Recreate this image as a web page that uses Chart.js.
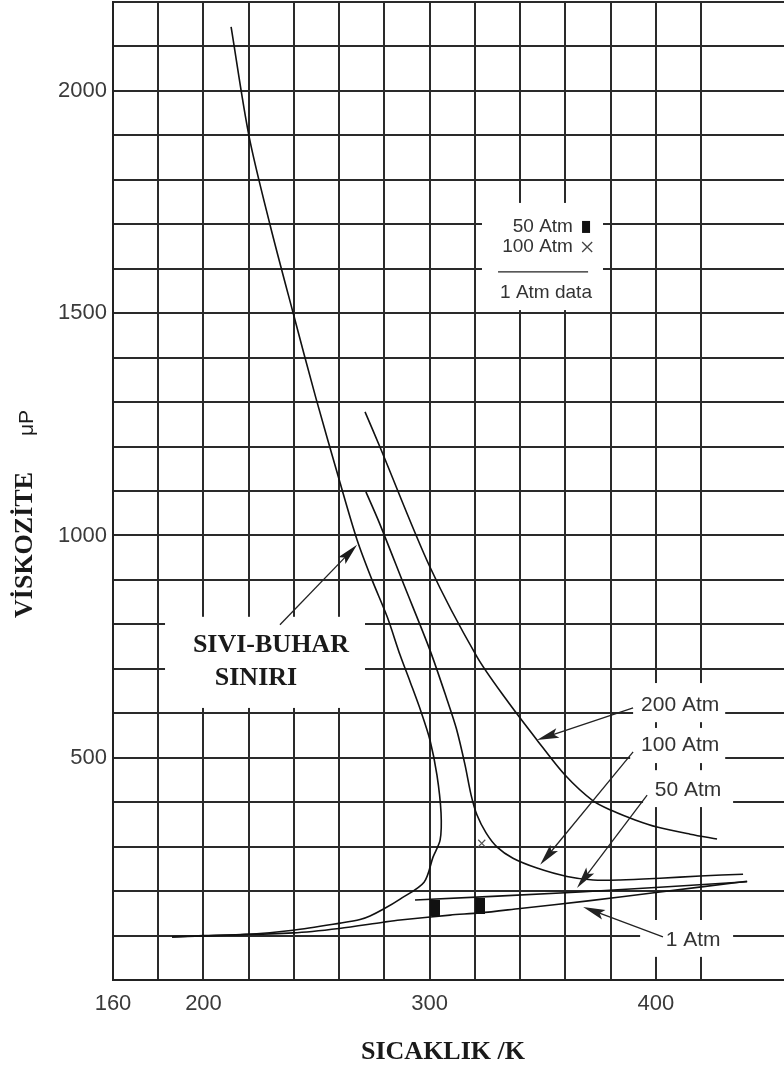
<!DOCTYPE html>
<html>
<head>
<meta charset="utf-8">
<script src="https://cdn.jsdelivr.net/npm/chart.js@4.4.0/dist/chart.umd.min.js"></script>
<style>
  html, body { margin: 0; padding: 0; background: #fff; }
  #wrap { width: 784px; height: 1072px; }
</style>
</head>
<body>
<div id="wrap"><canvas id="viscChart" width="784" height="1072"></canvas></div>
<script>
// values: temperature in K, viscosity in microPoise
var satT  = [212.2, 220.1, 229.4, 239.6, 249.7, 260.4, 267.9, 274.5, 281.2, 286.9, 291.4, 296.2, 300.1, 303.2, 305.0, 304.6, 301.5, 297.5, 286.9, 279.4, 273.6, 269.2, 260.4, 239.6, 220.6, 199.8, 186.1];
var satMu = [2144, 1899, 1699, 1501, 1309, 1118, 990, 900, 817, 731, 670, 603, 540, 461, 376, 315, 277, 220, 182, 159, 144, 136, 128, 112, 103, 99, 97];

var p200T  = [271.4, 278.0, 300.1, 320.9, 333.7, 347.4, 359.8, 372.2, 381.0, 390.8, 400.5, 415.1, 427.0];
var p200Mu = [1278, 1199, 929, 727, 632, 540, 461, 403, 380, 360, 344, 328, 317];

var p100T  = [271.8, 277.6, 288.6, 300.1, 307.7, 311.8, 315.6, 318.3, 320.9, 324.9, 329.8, 336.8, 347.4, 360.7, 372.2, 384.1, 401.8, 419.5, 438.5];
var p100Mu = [1098, 1030, 889, 742, 630, 565, 484, 416, 371, 331, 299, 274, 252, 233, 225, 225, 229, 234, 238];

var p50T  = [293.5, 366.5, 440.3];
var p50Mu = [180, 198, 221];

var p1T  = [186.1, 200, 239.6, 260, 279.4, 286.9, 309, 322.3, 340, 370, 400, 440.3];
var p1Mu = [97, 100, 106, 116, 130, 135, 146, 151, 161, 178, 197, 222];

// measured points
var d50T  = [302.3, 322.2];
var d50Mu = [162, 166];
var d100T  = [323.0];
var d100Mu = [307.5];

var xTickLabels = [160, 200, 300, 400];
var yTickLabels = [500, 1000, 1500, 2000];

function pts(xs, ys) {
  var out = [];
  for (var i = 0; i < xs.length; i++) out.push({ x: xs[i], y: ys[i] });
  return out;
}

// tall black block used for the 50 Atm data marks
var blockMark = document.createElement("canvas");
blockMark.width = 10;
blockMark.height = 16;
var bctx = blockMark.getContext("2d");
bctx.fillStyle = "#111";
bctx.fillRect(0, 0, 10, 16);

var SANS = "'Liberation Sans', Arial, sans-serif";
var SERIF = "'Liberation Serif', 'Times New Roman', serif";

// white boxes that cut the grid behind the labels [x1, y1, x2, y2] in data units
var masks = [
  [323.1, 1507, 376.6, 1748],
  [183.0, 612, 271.4, 817],
  [389.9, 580, 430.6, 668],
  [388.6, 488, 430.6, 567],
  [394.3, 389, 434.1, 472],
  [393.0, 52, 434.1, 135]
];

// curve labels and their arrows (tail -> head), data units
var curveLabels = [
  { text: "200 Atm", x: 410.7, y: 619, from: [389.9, 612], to: [347.4, 540] },
  { text: "100 Atm", x: 410.7, y: 529, from: [389.9, 513], to: [348.8, 259] },
  { text: "50 Atm", x: 414.2, y: 427, from: [396.1, 416], to: [365.1, 207] },
  { text: "1 Atm", x: 416.4, y: 90, from: [403.1, 97], to: [367.8, 164] }
];

function drawArrow(ctx, x1, y1, x2, y2) {
  var ang = Math.atan2(y2 - y1, x2 - x1);
  var len = 22, half = 5;
  var c = Math.cos(ang), s = Math.sin(ang);
  ctx.beginPath();
  ctx.moveTo(x1, y1);
  ctx.lineTo(x2 - c * len * 0.7, y2 - s * len * 0.7);
  ctx.stroke();
  ctx.beginPath();
  ctx.moveTo(x2, y2);
  ctx.lineTo(x2 - len * c + half * s, y2 - len * s - half * c);
  ctx.lineTo(x2 - len * c * 0.8, y2 - len * s * 0.8);
  ctx.lineTo(x2 - len * c - half * s, y2 - len * s + half * c);
  ctx.closePath();
  ctx.fill();
}

var decorPlugin = {
  id: "decor",
  beforeDatasetsDraw: function (chart) {
    var ctx = chart.ctx, xs = chart.scales.x, ys = chart.scales.y;
    ctx.save();
    ctx.fillStyle = "#fff";
    masks.forEach(function (m) {
      var l = xs.getPixelForValue(m[0]), r = xs.getPixelForValue(m[2]);
      var t = ys.getPixelForValue(m[3]), b = ys.getPixelForValue(m[1]);
      ctx.fillRect(l, t, r - l, b - t);
    });
    ctx.restore();
  },
  afterDatasetsDraw: function (chart) {
    var ctx = chart.ctx, xs = chart.scales.x, ys = chart.scales.y;
    var px = function (v) { return xs.getPixelForValue(v); };
    var py = function (v) { return ys.getPixelForValue(v); };
    ctx.save();
    ctx.fillStyle = "#222";
    ctx.strokeStyle = "#222";
    ctx.lineWidth = 1.3;

    // curve labels with arrows
    ctx.font = "21px " + SANS;
    ctx.textAlign = "center";
    ctx.textBaseline = "middle";
    curveLabels.forEach(function (c) {
      ctx.fillStyle = "#333";
      ctx.fillText(c.text, px(c.x), py(c.y));
      ctx.fillStyle = "#222";
      drawArrow(ctx, px(c.from[0]), py(c.from[1]), px(c.to[0]), py(c.to[1]));
    });

    // liquid-vapour boundary label
    ctx.font = "bold 26px " + SERIF;
    ctx.fillStyle = "#1a1a1a";
    ctx.fillText("SIVI-BUHAR", px(229.8), py(754));
    ctx.fillText("SINIRI", px(223.2), py(679));
    drawArrow(ctx, px(233.8), py(799), px(267.9), py(979));

    // key box
    ctx.font = "19px " + SANS;
    ctx.fillStyle = "#333";
    ctx.textAlign = "right";
    ctx.fillText("50 Atm", px(363.3), py(1694));
    ctx.fillText("100 Atm", px(363.3), py(1649));
    ctx.fillStyle = "#111";
    ctx.fillRect(px(369.1) - 4, py(1694) - 6, 8, 12);
    ctx.strokeStyle = "#444";
    ctx.lineWidth = 1.3;
    var cx = px(369.6), cy = py(1649);
    ctx.beginPath();
    ctx.moveTo(cx - 5, cy - 5); ctx.lineTo(cx + 5, cy + 5);
    ctx.moveTo(cx + 5, cy - 5); ctx.lineTo(cx - 5, cy + 5);
    ctx.stroke();
    ctx.strokeStyle = "#222";
    ctx.beginPath();
    ctx.moveTo(px(330.2), py(1593));
    ctx.lineTo(px(370), py(1593));
    ctx.stroke();
    ctx.fillStyle = "#333";
    ctx.textAlign = "center";
    ctx.fillText("1 Atm data", px(351.4), py(1546));
    ctx.restore();
  },
  afterDraw: function (chart) {
    var ctx = chart.ctx;
    ctx.save();
    ctx.fillStyle = "#1a1a1a";
    ctx.textAlign = "center";
    ctx.textBaseline = "middle";
    // axis titles
    ctx.font = "bold 26px " + SERIF;
    ctx.fillText("SICAKLIK /K", 443, 1052);
    ctx.translate(25, 545);
    ctx.rotate(-Math.PI / 2);
    ctx.fillText("VİSKOZİTE", 0, 0);
    ctx.font = "21px " + SANS;
    ctx.fillText("μP", 122, 2);
    ctx.restore();
  }
};

function lineSet(xs, ys) {
  return {
    data: pts(xs, ys),
    showLine: true,
    borderColor: "#111",
    borderWidth: 1.6,
    pointRadius: 0,
    tension: 0.3,
    fill: false
  };
}

function noPad(scale) {
  scale.paddingTop = 0;
  scale.paddingBottom = 0;
  scale.paddingLeft = 0;
  scale.paddingRight = 0;
}

var ctx = document.getElementById("viscChart").getContext("2d");
var myChart = new Chart(ctx, {
  type: "scatter",
  data: {
    datasets: [
      lineSet(satT, satMu),
      lineSet(p200T, p200Mu),
      lineSet(p100T, p100Mu),
      lineSet(p50T, p50Mu),
      lineSet(p1T, p1Mu),
      {
        data: pts(d50T, d50Mu),
        pointStyle: blockMark,
        pointRadius: 6,
        showLine: false
      },
      {
        data: pts(d100T, d100Mu),
        pointStyle: "crossRot",
        pointRadius: 5,
        borderColor: "#555",
        borderWidth: 1.2,
        showLine: false
      }
    ]
  },
  options: {
    responsive: false,
    animation: false,
    devicePixelRatio: 1,
    layout: { autoPadding: false, padding: { top: 2, right: 0, left: 0, bottom: 0 } },
    plugins: {
      legend: { display: false },
      tooltip: { enabled: false }
    },
    scales: {
      x: {
        type: "linear",
        min: 160,
        max: 456.6,
        afterBuildTicks: function (scale) {
          scale.ticks = scale.ticks.filter(function (t) { return t.value % 20 === 0; });
        },
        afterFit: function (scale) { scale.height = 92; noPad(scale); },
        ticks: {
          stepSize: 20,
          autoSkip: false,
          maxRotation: 0,
          padding: 11,
          color: "#3a3a3a",
          font: { family: SANS, size: 22 },
          callback: function (v) { return xTickLabels.indexOf(v) >= 0 ? String(v) : ""; }
        },
        grid: { color: "#2a2a2a", lineWidth: 2, drawTicks: false },
        border: { color: "#222", width: 2 }
      },
      y: {
        type: "linear",
        min: 0,
        max: 2200,
        afterFit: function (scale) { scale.width = 113; noPad(scale); },
        ticks: {
          stepSize: 100,
          autoSkip: false,
          padding: 6,
          color: "#3a3a3a",
          font: { family: SANS, size: 22 },
          callback: function (v) { return yTickLabels.indexOf(v) >= 0 ? String(v) : ""; }
        },
        grid: { color: "#2a2a2a", lineWidth: 2, drawTicks: false },
        border: { color: "#222", width: 2 }
      }
    }
  },
  plugins: [decorPlugin]
});
</script>
</body>
</html>
